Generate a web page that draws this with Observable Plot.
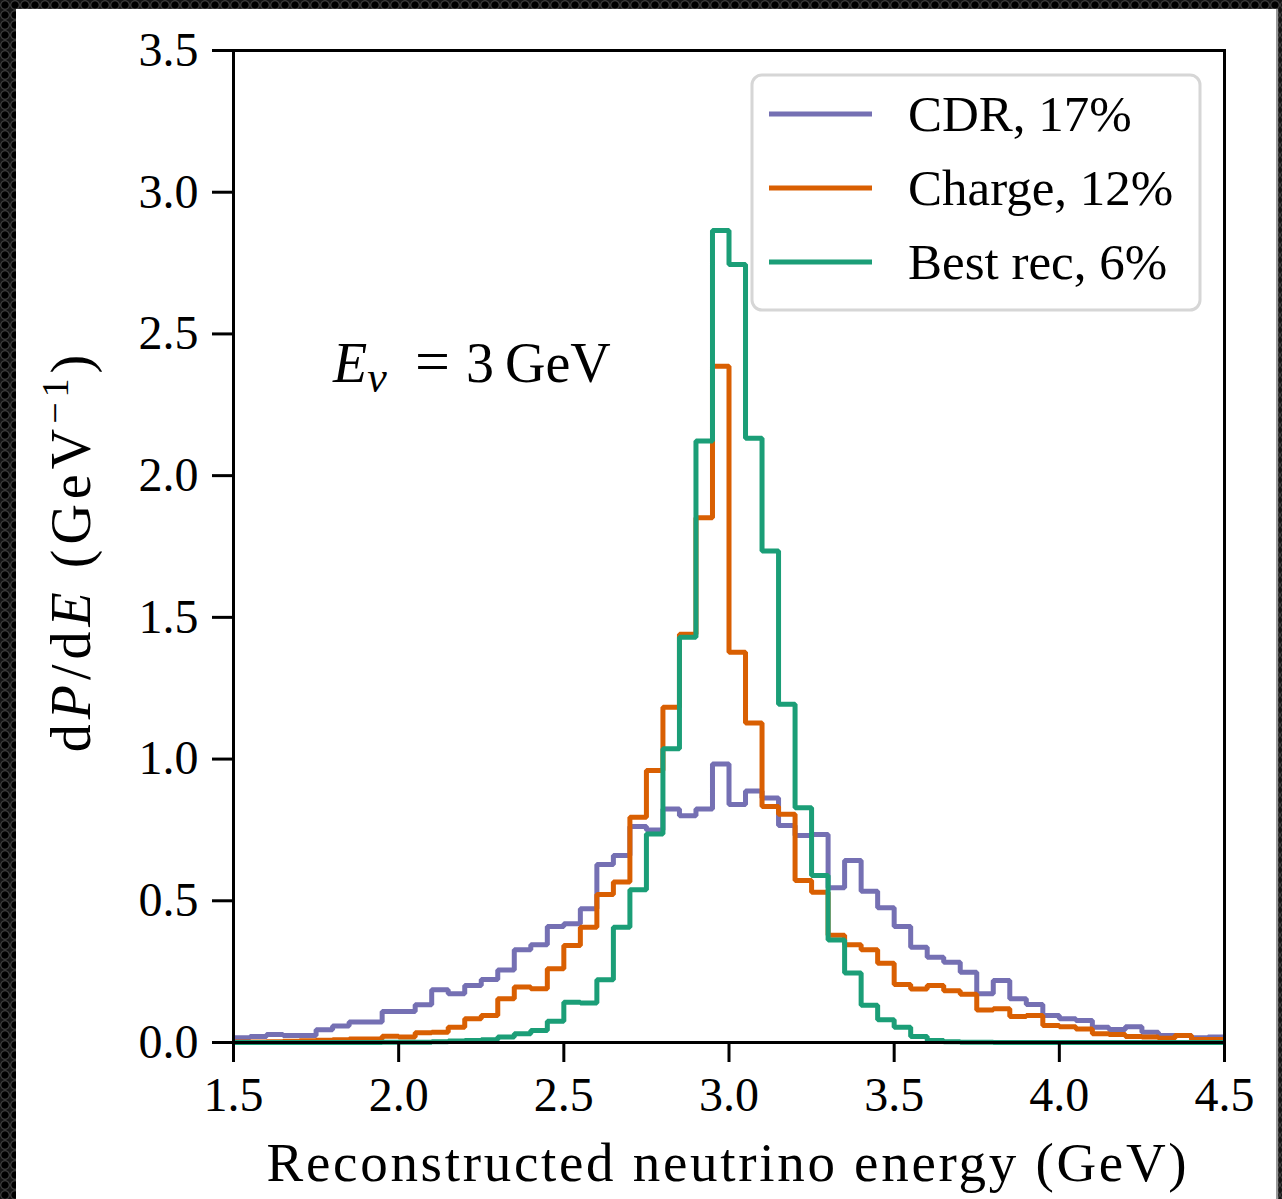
<!DOCTYPE html>
<html><head><meta charset="utf-8">
<script src="https://cdn.jsdelivr.net/npm/d3@7"></script>
<script src="https://cdn.jsdelivr.net/npm/@observablehq/plot@0.6"></script>
<style>
html,body{margin:0;padding:0;width:1282px;height:1199px;overflow:hidden;}
body{background-color:#161616;background-image:radial-gradient(circle, #000 0 3.2px, #3a3a3a 4px 4.5px, #141414 5.2px);background-size:10px 10px;position:relative;}
#panel{position:absolute;left:16px;top:9px;width:1260px;height:1190px;background:#fff;box-shadow:2px 0 1px #9a9a9a;}
#chart{position:absolute;left:16px;top:9px;}
</style></head><body><div id="panel"></div><div id="chart"></div>
<script>
// Bin edges (GeV)
const edges = [1.50,1.55,1.60,1.65,1.70,1.75,1.80,1.85,1.90,1.95,
  2.00,2.05,2.10,2.15,2.20,2.25,2.30,2.35,2.40,2.45,
  2.50,2.55,2.60,2.65,2.70,2.75,2.80,2.85,2.90,2.95,
  3.00,3.05,3.10,3.15,3.20,3.25,3.30,3.35,3.40,3.45,
  3.50,3.55,3.60,3.65,3.70,3.75,3.80,3.85,3.90,3.95,
  4.00,4.05,4.10,4.15,4.20,4.25,4.30,4.35,4.40,4.45,4.50];

const seriesNames = ["CDR, 17%", "Charge, 12%", "Best rec, 6%"];

const cdr = [0.017,0.021,0.028,0.025,0.025,0.045,0.058,0.072,0.072,0.109,
  0.109,0.133,0.186,0.172,0.201,0.222,0.256,0.327,0.345,0.409,
  0.419,0.472,0.628,0.660,0.762,0.750,0.824,0.800,0.824,0.983,
  0.840,0.887,0.863,0.766,0.730,0.734,0.546,0.642,0.534,0.475,
  0.409,0.336,0.301,0.283,0.248,0.172,0.219,0.154,0.134,0.095,
  0.084,0.078,0.054,0.046,0.056,0.036,0.025,0.025,0.017,0.019];

const charge = [0.002,0.002,0.003,0.004,0.006,0.008,0.010,0.012,0.012,0.022,
  0.019,0.034,0.036,0.054,0.084,0.095,0.154,0.196,0.190,0.260,
  0.342,0.407,0.522,0.566,0.795,0.960,1.183,1.440,1.851,2.386,
  1.377,1.127,0.833,0.805,0.572,0.530,0.378,0.345,0.327,0.280,
  0.205,0.189,0.201,0.183,0.170,0.115,0.119,0.092,0.095,0.060,
  0.056,0.048,0.031,0.028,0.021,0.019,0.015,0.025,0.011,0.011];

const bestRec = [0,0,0,0,0,0,0,0,0,0.001,
  0.001,0.001,0.003,0.005,0.007,0.010,0.019,0.031,0.042,0.075,
  0.142,0.139,0.221,0.407,0.539,0.736,1.036,1.430,2.122,2.865,
  2.745,2.132,1.734,1.193,0.828,0.589,0.362,0.245,0.131,0.080,
  0.054,0.021,0.007,0.003,0.001,0.001,0,0,0,0,
  0,0,0,0,0,0,0,0,0,0];

const xTicks = [1.5,2.0,2.5,3.0,3.5,4.0,4.5];
const yTicks = [0,0.5,1.0,1.5,2.0,2.5,3.0,3.5];
const colors = ["#7570b3","#d95f02","#1b9e77"];

// Build step table (each bin value at its left edge, repeat last value at right edge)
const seriesValues = [cdr, charge, bestRec];
const rows = [];
seriesValues.forEach((vals, s) => {
  vals.forEach((v, i) => rows.push({x: edges[i], y: v, series: seriesNames[s]}));
  rows.push({x: edges[vals.length], y: vals[vals.length - 1], series: seriesNames[s]});
});

const fmt = d => d.toFixed(1);
const chart = Plot.plot({
  width: 1260, height: 1190,
  marginLeft: 217, marginRight: 52, marginTop: 41, marginBottom: 157,
  style: {fontFamily: "'Liberation Serif', serif", fontSize: "48px", background: "transparent", color: "black", overflow: "visible"},
  x: {domain: [1.5, 4.5]},
  y: {domain: [0, 3.5]},
  color: {domain: seriesNames, range: colors},
  marks: [
    Plot.line(rows, {x: "x", y: "y", z: "series", stroke: "series", curve: "step-after", strokeWidth: 5, strokeLinejoin: "miter", strokeLinecap: "butt"}),
    Plot.frame({stroke: "black", strokeWidth: 3}),
    Plot.axisX({ticks: xTicks, tickFormat: fmt, tickSize: 20, tickPadding: 14, fontSize: 48, strokeWidth: 3, label: null}),
    Plot.axisY({ticks: yTicks, tickFormat: fmt, tickSize: 21, tickPadding: 14, fontSize: 48, strokeWidth: 3, label: null})
  ]
});
document.getElementById("chart").appendChild(chart);

const svg = d3.select(chart);
const serif = "'Liberation Serif', serif";

// Y label
const yl = svg.append("text")
  .attr("transform", "translate(74,542) rotate(-90)")
  .attr("text-anchor", "middle")
  .attr("font-family", serif).attr("font-size", 56)
  .attr("letter-spacing", "5px").attr("fill", "black");
yl.append("tspan").text("d");
yl.append("tspan").attr("font-style", "italic").text("P");
yl.append("tspan").text("/d");
yl.append("tspan").attr("font-style", "italic").text("E");
yl.append("tspan").text(" (GeV");
yl.append("tspan").attr("font-size", 38).attr("dy", -22).text("−1");
yl.append("tspan").attr("dy", 22).text(")");

// X label
svg.append("text")
  .attr("x", 712).attr("y", 1172)
  .attr("text-anchor", "middle")
  .attr("font-family", serif).attr("font-size", 55)
  .attr("letter-spacing", "2.7px").attr("fill", "black")
  .text("Reconstructed neutrino energy (GeV)");

// Annotation E_nu = 3 GeV
const ann = svg.append("text").attr("x", 317).attr("y", 373)
  .attr("text-anchor", "start")
  .attr("font-family", serif).attr("font-size", 56).attr("fill", "black");
ann.append("tspan").attr("font-style", "italic").text("E");
ann.append("tspan").attr("font-style", "italic").attr("font-size", 44).attr("dy", 10).text("ν");
ann.append("tspan").attr("x", 399).attr("dy", -10).attr("font-size", 62).text("=");
ann.append("tspan").attr("x", 450).text("3");
ann.append("tspan").attr("x", 489).text("GeV");

// Legend
const lg = svg.append("g");
lg.append("rect").attr("x", 736).attr("y", 66).attr("width", 448).attr("height", 235)
  .attr("rx", 10).attr("fill", "white").attr("fill-opacity", 0.8)
  .attr("stroke", "#d6d6d6").attr("stroke-width", 3);
const legY = [105, 179, 253];
seriesNames.forEach((name, i) => {
  lg.append("line").attr("x1", 753).attr("x2", 856).attr("y1", legY[i]).attr("y2", legY[i])
    .attr("stroke", colors[i]).attr("stroke-width", 5);
  lg.append("text").attr("x", 892).attr("y", legY[i] + 17)
    .attr("text-anchor", "start")
    .attr("font-family", serif).attr("font-size", 51).attr("fill", "black")
    .text(name);
});
</script>
</body></html>
